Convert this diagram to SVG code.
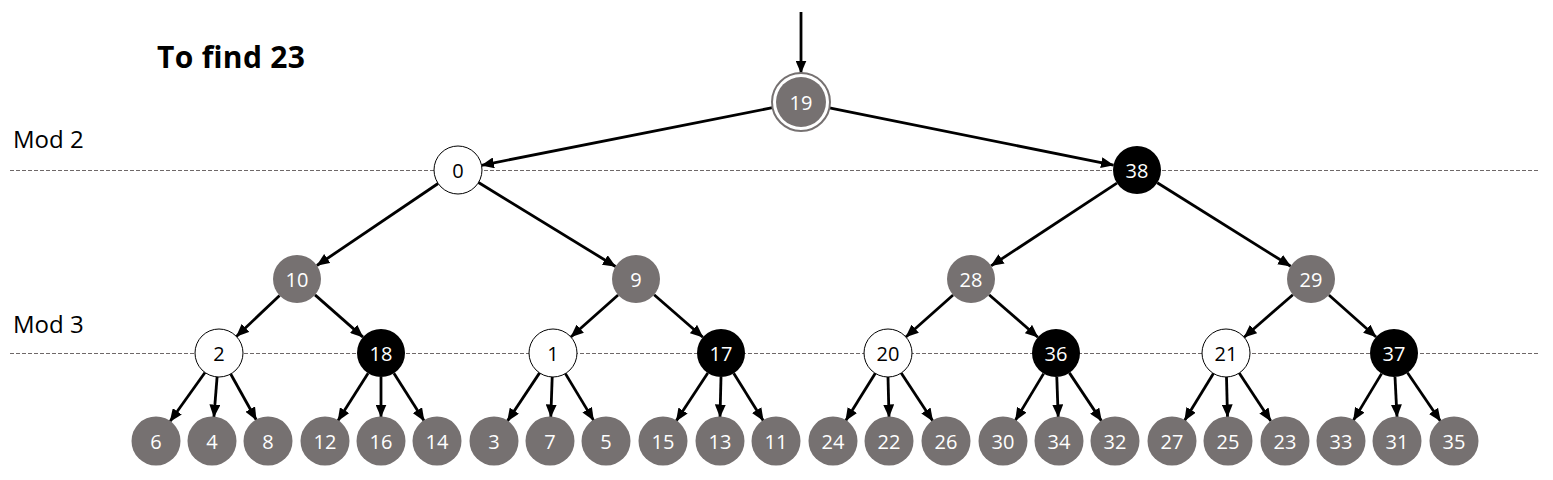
<svg xmlns="http://www.w3.org/2000/svg" width="1553" height="480" viewBox="0 0 1553 480">
<defs>
<style>
.bg{fill:#ffffff}
.guide{stroke:#6e6868;stroke-width:1;stroke-dasharray:4 2;fill:none}
.lbl{font-family:"Open Sans","Noto Sans",sans-serif;font-size:24px;fill:#000}
.title{font-family:"Open Sans","Noto Sans",sans-serif;font-size:30px;font-weight:bold;fill:#000}
.g circle{fill:#767171}
.b circle{fill:#000}
.w circle{fill:#fff;stroke:#000;stroke-width:1}
.n text{font-family:"Open Sans","Noto Sans",sans-serif;font-size:20px;text-anchor:middle;dominant-baseline:central}
.g text,.b text{fill:#fff}
.w text{fill:#000}
.edges line{stroke:#000;stroke-width:2.8;marker-end:url(#ah)}
</style>
<marker id="ah" markerUnits="userSpaceOnUse" markerWidth="13" markerHeight="11" refX="12.5" refY="5.5" orient="auto">
<path d="M0,0 L13,5.5 L0,11 z" fill="#000"/>
</marker>
</defs>
<rect class="bg" x="0" y="0" width="1553" height="480"/>
<line class="guide" x1="10" y1="170.5" x2="1540" y2="170.5"/>
<line class="guide" x1="10" y1="353.5" x2="1540" y2="353.5"/>
<text class="title" x="157" y="68" textLength="148">To find 23</text>
<text class="lbl" x="13" y="148">Mod 2</text>
<text class="lbl" x="13" y="333">Mod 3</text>

<g id="connectors" class="edges">
<line x1="801" y1="12" x2="801" y2="73"/>
<line x1="772.6" y1="107.6" x2="481.5" y2="165.3"/>
<line x1="829.4" y1="107.8" x2="1113.5" y2="165.2"/>
<line x1="438.1" y1="183.5" x2="316.9" y2="265.5"/>
<line x1="478.5" y1="182.5" x2="615.5" y2="266.5"/>
<line x1="1116.9" y1="183.2" x2="991.1" y2="265.8"/>
<line x1="1157.3" y1="182.7" x2="1290.7" y2="266.3"/>
<line x1="279.6" y1="295.5" x2="236.4" y2="336.5"/>
<line x1="315" y1="294.9" x2="363" y2="337.1"/>
<line x1="618.1" y1="295" x2="570.9" y2="337"/>
<line x1="654.1" y1="294.8" x2="702.9" y2="337.2"/>
<line x1="953.1" y1="295" x2="905.9" y2="337"/>
<line x1="989.1" y1="294.8" x2="1037.9" y2="337.2"/>
<line x1="1292.9" y1="294.8" x2="1244.1" y2="337.2"/>
<line x1="1328.9" y1="295" x2="1376.1" y2="337"/>
<line x1="205" y1="372.5" x2="170" y2="421.5"/>
<line x1="217.1" y1="376.9" x2="213.9" y2="417.1"/>
<line x1="230.7" y1="374" x2="256.3" y2="420"/>
<line x1="368.1" y1="373.2" x2="337.9" y2="420.8"/>
<line x1="381" y1="377" x2="381" y2="417"/>
<line x1="393.9" y1="373.2" x2="424.1" y2="420.8"/>
<line x1="539.6" y1="372.9" x2="507.4" y2="421.1"/>
<line x1="552.2" y1="377" x2="550.8" y2="417"/>
<line x1="565.4" y1="373.6" x2="593.6" y2="420.4"/>
<line x1="707.8" y1="373" x2="676.2" y2="421"/>
<line x1="721" y1="377" x2="720" y2="417"/>
<line x1="733.7" y1="373.3" x2="763.3" y2="420.7"/>
<line x1="875.3" y1="373.3" x2="845.7" y2="420.7"/>
<line x1="888" y1="377" x2="889" y2="417"/>
<line x1="901.2" y1="373" x2="932.8" y2="421"/>
<line x1="1043.6" y1="373.6" x2="1015.4" y2="420.4"/>
<line x1="1056.8" y1="377" x2="1058.2" y2="417"/>
<line x1="1069.4" y1="372.9" x2="1101.6" y2="421.1"/>
<line x1="1213.4" y1="373.5" x2="1184.6" y2="420.5"/>
<line x1="1226.5" y1="377" x2="1227.5" y2="417"/>
<line x1="1239.2" y1="373" x2="1270.8" y2="421"/>
<line x1="1381.6" y1="373.6" x2="1353.4" y2="420.4"/>
<line x1="1395" y1="377" x2="1397" y2="417"/>
<line x1="1407.5" y1="372.8" x2="1440.5" y2="421.2"/>
</g>

<g id="n19" class="n g"><circle cx="801" cy="102" r="29" fill="#fff" stroke="#767171" stroke-width="2" style="fill:#fff"/><circle cx="801" cy="102" r="25"/><text x="801" y="102">19</text></g>
<g id="n0" class="n w"><circle cx="458" cy="170" r="24"/><text x="458" y="170">0</text></g>
<g id="n38" class="n b"><circle cx="1137" cy="170" r="24"/><text x="1137" y="170">38</text></g>
<g id="n10" class="n g"><circle cx="297" cy="279" r="24"/><text x="297" y="279">10</text></g>
<g id="n9" class="n g"><circle cx="636" cy="279" r="24"/><text x="636" y="279">9</text></g>
<g id="n28" class="n g"><circle cx="971" cy="279" r="24"/><text x="971" y="279">28</text></g>
<g id="n29" class="n g"><circle cx="1311" cy="279" r="24"/><text x="1311" y="279">29</text></g>
<g id="n2" class="n w"><circle cx="219" cy="353" r="24"/><text x="219" y="353">2</text></g>
<g id="n18" class="n b"><circle cx="381" cy="353" r="24"/><text x="381" y="353">18</text></g>
<g id="n1" class="n w"><circle cx="553" cy="353" r="24"/><text x="553" y="353">1</text></g>
<g id="n17" class="n b"><circle cx="721" cy="353" r="24"/><text x="721" y="353">17</text></g>
<g id="n20" class="n w"><circle cx="888" cy="353" r="24"/><text x="888" y="353">20</text></g>
<g id="n36" class="n b"><circle cx="1056" cy="353" r="24"/><text x="1056" y="353">36</text></g>
<g id="n21" class="n w"><circle cx="1226" cy="353" r="24"/><text x="1226" y="353">21</text></g>
<g id="n37" class="n b"><circle cx="1394" cy="353" r="24"/><text x="1394" y="353">37</text></g>
<g id="n6" class="n g"><circle cx="156" cy="441" r="24.5"/><text x="156" y="441">6</text></g>
<g id="n4" class="n g"><circle cx="212" cy="441" r="24.5"/><text x="212" y="441">4</text></g>
<g id="n8" class="n g"><circle cx="268" cy="441" r="24.5"/><text x="268" y="441">8</text></g>
<g id="n12" class="n g"><circle cx="325" cy="441" r="24.5"/><text x="325" y="441">12</text></g>
<g id="n16" class="n g"><circle cx="381" cy="441" r="24.5"/><text x="381" y="441">16</text></g>
<g id="n14" class="n g"><circle cx="437" cy="441" r="24.5"/><text x="437" y="441">14</text></g>
<g id="n3" class="n g"><circle cx="494" cy="441" r="24.5"/><text x="494" y="441">3</text></g>
<g id="n7" class="n g"><circle cx="550" cy="441" r="24.5"/><text x="550" y="441">7</text></g>
<g id="n5" class="n g"><circle cx="606" cy="441" r="24.5"/><text x="606" y="441">5</text></g>
<g id="n15" class="n g"><circle cx="663" cy="441" r="24.5"/><text x="663" y="441">15</text></g>
<g id="n13" class="n g"><circle cx="720" cy="441" r="24.5"/><text x="720" y="441">13</text></g>
<g id="n11" class="n g"><circle cx="776" cy="441" r="24.5"/><text x="776" y="441">11</text></g>
<g id="n24" class="n g"><circle cx="833" cy="441" r="24.5"/><text x="833" y="441">24</text></g>
<g id="n22" class="n g"><circle cx="889" cy="441" r="24.5"/><text x="889" y="441">22</text></g>
<g id="n26" class="n g"><circle cx="946" cy="441" r="24.5"/><text x="946" y="441">26</text></g>
<g id="n30" class="n g"><circle cx="1003" cy="441" r="24.5"/><text x="1003" y="441">30</text></g>
<g id="n34" class="n g"><circle cx="1059" cy="441" r="24.5"/><text x="1059" y="441">34</text></g>
<g id="n32" class="n g"><circle cx="1115" cy="441" r="24.5"/><text x="1115" y="441">32</text></g>
<g id="n27" class="n g"><circle cx="1172" cy="441" r="24.5"/><text x="1172" y="441">27</text></g>
<g id="n25" class="n g"><circle cx="1228" cy="441" r="24.5"/><text x="1228" y="441">25</text></g>
<g id="n23" class="n g"><circle cx="1285" cy="441" r="24.5"/><text x="1285" y="441">23</text></g>
<g id="n33" class="n g"><circle cx="1341" cy="441" r="24.5"/><text x="1341" y="441">33</text></g>
<g id="n31" class="n g"><circle cx="1397" cy="441" r="24.5"/><text x="1397" y="441">31</text></g>
<g id="n35" class="n g"><circle cx="1454" cy="441" r="24.5"/><text x="1454" y="441">35</text></g>
</svg>
